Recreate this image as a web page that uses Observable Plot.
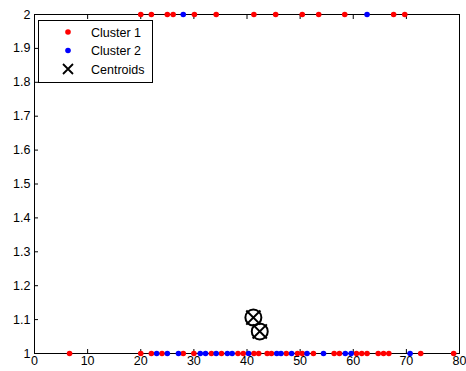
<!DOCTYPE html>
<html><head><meta charset="utf-8">
<script src="https://cdn.jsdelivr.net/npm/d3@7"></script>
<script src="https://cdn.jsdelivr.net/npm/@observablehq/plot@0.6"></script>
<style>
body{margin:0;background:#fff;}
#wrap{position:relative;width:466px;height:371px;font-family:"Liberation Sans",Arial,sans-serif;}
#legend{position:absolute;left:38px;top:20px;width:113px;height:61px;border:1px solid #000;background:#fff;}
#legend svg{position:absolute;left:0;top:0;}
</style></head><body>
<div id="wrap"><div id="chart"></div>
<div id="legend"></div></div>
<script>
// y = 2 row
const top1 = [20, 22, 25, 26.1, 30.1, 34.2, 41.3, 45.4, 50.4, 53.5, 58.4, 67.6, 69.7];
const top2 = [28, 62.6];
// y = 1 row
const bot1 = [6.6, 20, 22, 24, 28, 30, 33.3, 35.2, 38.3, 39.3, 41.3, 42.2, 43.8, 44.6, 47.4, 49.5, 50.4, 52.5, 56.4, 57.4, 60.6, 61.6, 62.6, 64.7, 65.7, 66.7, 72.7, 78.9];
const bot2 = [23, 25, 27.1, 31.2, 32.2, 34.2, 36.3, 37.2, 40.3, 45.6, 46.4, 48.4, 51.3, 54.4, 58.5, 59.6, 70.7];
const centX = [41.2, 42.4];
const centY = [1.106, 1.065];
const xTicks = [0, 10, 20, 30, 40, 50, 60, 70, 80];
const yTicks = [1, 1.1, 1.2, 1.3, 1.4, 1.5, 1.6, 1.7, 1.8, 1.9, 2];
const legendLabels = ["Cluster 1", "Cluster 2", "Centroids"];

const pts = [
  ...top1.map(x => ({x, y: 2, c: 1})),
  ...top2.map(x => ({x, y: 2, c: 2})),
  ...bot1.map(x => ({x, y: 1, c: 1})),
  ...bot2.map(x => ({x, y: 1, c: 2}))
];
const cents = centX.map((x, i) => ({x, y: centY[i]}));
const fmt = d => String(+d.toFixed(1));

const chart = Plot.plot({
  width: 466, height: 371,
  marginLeft: 34, marginRight: 7, marginTop: 14, marginBottom: 18,
  style: {fontFamily: '"Liberation Sans", Arial, sans-serif', fontSize: "12.5px", color: "#000", background: "#fff"},
  x: {domain: [0, 80]},
  y: {domain: [1, 2]},
  marks: [
    Plot.frame({stroke: "#000"}),
    Plot.axisX(xTicks, {anchor: "bottom", tickSize: 0, tickPadding: 3, tickFormat: fmt, label: null}),
    Plot.axisX(xTicks.slice(1, -1), {anchor: "bottom", tickSize: -4, tickFormat: () => "", label: null}),
    Plot.axisX(xTicks.slice(1, -1), {anchor: "top", tickSize: -4, tickFormat: () => "", label: null}),
    Plot.axisY(yTicks, {anchor: "left", tickSize: 0, tickPadding: 4, tickFormat: fmt, label: null}),
    Plot.axisY(yTicks.slice(1, -1), {anchor: "left", tickSize: -4, tickFormat: () => "", label: null}),
    Plot.dot(pts, {x: "x", y: "y", r: 2.8, fill: d => d.c === 1 ? "#ff0000" : "#0000ff", stroke: "none"}),
    Plot.dot(cents, {x: "x", y: "y", r: 8, stroke: "#000", strokeWidth: 2, fill: "none"}),
    Plot.dot(cents, {x: "x", y: "y", r: 6.5, symbol: "times", stroke: "#000", strokeWidth: 2})
  ]
});
document.getElementById("chart").appendChild(chart);

// legend
const lg = document.getElementById("legend");
const ns = "http://www.w3.org/2000/svg";
const svg = document.createElementNS(ns, "svg");
svg.setAttribute("width", 113); svg.setAttribute("height", 61);
const colors = ["#ff0000", "#0000ff"];
legendLabels.forEach((lab, i) => {
  const cy = 11 + i * 18.5;
  if (i < 2) {
    const c = document.createElementNS(ns, "circle");
    c.setAttribute("cx", 29); c.setAttribute("cy", cy); c.setAttribute("r", 2.8);
    c.setAttribute("fill", colors[i]);
    svg.appendChild(c);
  } else {
    const p = document.createElementNS(ns, "path");
    p.setAttribute("d", `M24,${cy-5}L34,${cy+5}M24,${cy+5}L34,${cy-5}`);
    p.setAttribute("stroke", "#000"); p.setAttribute("stroke-width", 1.8);
    svg.appendChild(p);
  }
  const t = document.createElementNS(ns, "text");
  t.setAttribute("x", 52); t.setAttribute("y", cy + 4.5);
  t.setAttribute("font-family", '"Liberation Sans", Arial, sans-serif');
  t.setAttribute("font-size", "12.5px");
  t.textContent = lab;
  svg.appendChild(t);
});
lg.appendChild(svg);
</script></body></html>
